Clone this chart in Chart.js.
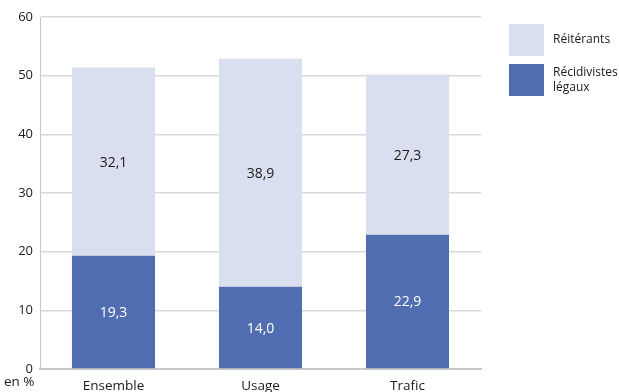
<!DOCTYPE html>
<html><head><meta charset="utf-8">
<script src="https://cdn.jsdelivr.net/npm/chart.js@4/dist/chart.umd.min.js"></script>
<style>html,body{margin:0;padding:0;background:#fff}#wrap{width:619px;height:392px;position:relative}</style>
</head><body><div id="wrap"><canvas id="c" width="619" height="392"></canvas></div>
<script>
const categories = ["Ensemble", "Usage", "Trafic"];
const recidivistes = [19.3, 14.0, 22.9];
const reiterants = [32.1, 38.9, 27.3];
const seriesNames = ["Réitérants", "Récidivistes\nlégaux"];
const yTicks = [0, 10, 20, 30, 40, 50, 60];
const unitLabel = "en %";

const DARK = "#4f6db0", LIGHT = "#d9dfee";
const FONT = "'Open Sans', 'Liberation Sans', sans-serif";
const fmt = v => v.toFixed(1).replace(".", ",");

const extras = {
  id: "extras",
  afterDatasetsDraw(chart) {
    const ctx = chart.ctx;
    ctx.save();
    ctx.font = "14px " + FONT;
    ctx.textAlign = "center";
    ctx.textBaseline = "middle";
    chart.data.datasets.forEach((ds, di) => {
      const meta = chart.getDatasetMeta(di);
      meta.data.forEach((bar, i) => {
        const y = (bar.y + bar.base) / 2;
        ctx.fillStyle = di === 0 ? "#ffffff" : "#1a1a1a";
        ctx.fillText(fmt(ds.data[i]), bar.x, y + 1);
      });
    });
    ctx.font = "13.5px " + FONT;
    ctx.fillStyle = "#1a1a1a";
    ctx.textAlign = "left";
    ctx.fillText(unitLabel, 4, 382);
    const items = [{c: LIGHT, t: seriesNames[0], y: 24}, {c: DARK, t: seriesNames[1], y: 64}];
    ctx.font = "12px " + FONT;
    items.forEach(it => {
      ctx.fillStyle = it.c;
      ctx.fillRect(509, it.y, 35, 32);
      ctx.fillStyle = "#1a1a1a";
      const lines = it.t.split("\n");
      lines.forEach((l, k) => ctx.fillText(l, 553, it.y + (lines.length === 1 ? 16 : 9 + k * 15)));
    });
    ctx.restore();
  }
};

new Chart(document.getElementById("c"), {
  type: "bar",
  data: {
    labels: categories,
    datasets: [
      {label: "Récidivistes légaux", data: recidivistes, backgroundColor: DARK, categoryPercentage: 1, barPercentage: 0.565},
      {label: "Réitérants", data: reiterants, backgroundColor: LIGHT, categoryPercentage: 1, barPercentage: 0.565}
    ]
  },
  options: {
    responsive: false, animation: false,
    devicePixelRatio: 1,
    layout: {padding: {top: 17, right: 138, left: 0, bottom: 0}},
    plugins: {legend: {display: false}, tooltip: {enabled: false}},
    scales: {
      x: {
        stacked: true,
        grid: {display: false},
        border: {display: true, color: "#c8c8c8", width: 2},
        ticks: {color: "#1a1a1a", font: {family: FONT, size: 13.5}, padding: 1, maxRotation: 0},
        afterFit: s => { s.height = 23; }
      },
      y: {
        stacked: true, min: 0, max: 60,
        afterBuildTicks: s => { s.ticks = yTicks.map(v => ({value: v})); },
        grid: {color: "#d9d9d9", lineWidth: 1.5, drawTicks: false},
        border: {display: true, color: "#c8c8c8", width: 1},
        ticks: {color: "#1a1a1a", font: {family: FONT, size: 13}, padding: 7},
        afterFit: s => { s.width = 40; }
      }
    }
  },
  plugins: [extras]
});
</script>
</body></html>
